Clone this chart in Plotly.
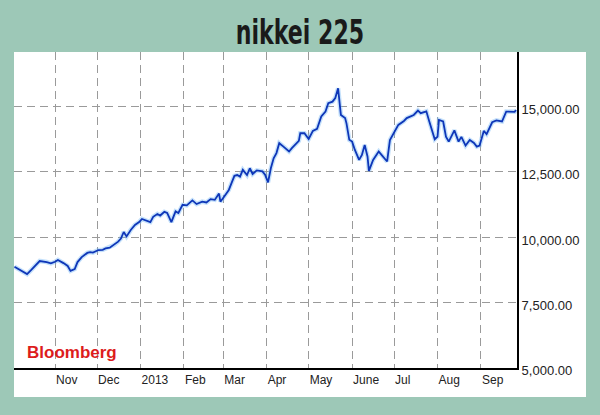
import plotly.graph_objects as go

dates = [
    "2012-10-03", "2012-10-07", "2012-10-12", "2012-10-15", "2012-10-18", "2012-10-21",
    "2012-10-26", "2012-10-29", "2012-11-01", "2012-11-03", "2012-11-07", "2012-11-10",
    "2012-11-12", "2012-11-15", "2012-11-17", "2012-11-20", "2012-11-24", "2012-11-26",
    "2012-11-28", "2012-12-02", "2012-12-05", "2012-12-07", "2012-12-10", "2012-12-13",
    "2012-12-16", "2012-12-18", "2012-12-20", "2012-12-22", "2012-12-25", "2012-12-28",
    "2012-12-31", "2013-01-02", "2013-01-06", "2013-01-08", "2013-01-10", "2013-01-13",
    "2013-01-15", "2013-01-18", "2013-01-20", "2013-01-23", "2013-01-26", "2013-01-28",
    "2013-01-31", "2013-02-03", "2013-02-07", "2013-02-10", "2013-02-14", "2013-02-17",
    "2013-02-20", "2013-02-23", "2013-02-26", "2013-02-27", "2013-03-02", "2013-03-05",
    "2013-03-07", "2013-03-09", "2013-03-11", "2013-03-13", "2013-03-15", "2013-03-18",
    "2013-03-20", "2013-03-22", "2013-03-25", "2013-03-29", "2013-03-31", "2013-04-02",
    "2013-04-04", "2013-04-06", "2013-04-08", "2013-04-10", "2013-04-13", "2013-04-17",
    "2013-04-19", "2013-04-21", "2013-04-24", "2013-04-25", "2013-04-28", "2013-05-01",
    "2013-05-04", "2013-05-07", "2013-05-10", "2013-05-13", "2013-05-15", "2013-05-18",
    "2013-05-20", "2013-05-22", "2013-05-24", "2013-05-27", "2013-05-28", "2013-05-30",
    "2013-06-01", "2013-06-03", "2013-06-06", "2013-06-08", "2013-06-10", "2013-06-12",
    "2013-06-13", "2013-06-16", "2013-06-20", "2013-06-22", "2013-06-26", "2013-06-28",
    "2013-07-02", "2013-07-04", "2013-07-08", "2013-07-10", "2013-07-15", "2013-07-18",
    "2013-07-20", "2013-07-24", "2013-07-26", "2013-07-29", "2013-07-30", "2013-08-01",
    "2013-08-02", "2013-08-05", "2013-08-07", "2013-08-09", "2013-08-13", "2013-08-16",
    "2013-08-18", "2013-08-21", "2013-08-24", "2013-08-27", "2013-08-29", "2013-08-31",
    "2013-09-03", "2013-09-05", "2013-09-09", "2013-09-12", "2013-09-16", "2013-09-19",
    "2013-09-23", "2013-09-25", "2013-09-26",
]

nikkei = [
    8870, 8750, 8590, 8750, 8940, 9090,
    9050, 9000, 9060, 9130, 9010, 8900,
    8710, 8780, 9050, 9240, 9400, 9430,
    9410, 9510, 9520, 9570, 9600, 9700,
    9830, 9950, 10200, 10030, 10280, 10470,
    10580, 10700, 10620, 10580, 10780, 10890,
    10830, 10970, 10930, 10580, 10990, 10930,
    11240, 11220, 11410, 11270, 11360, 11330,
    11460, 11430, 11670, 11360, 11580, 11810,
    12080, 12350, 12380, 12320, 12580, 12380,
    12640, 12420, 12560, 12520, 12380, 12100,
    12640, 13020, 13220, 13600, 13470, 13280,
    13410, 13530, 13690, 13980, 13980, 13760,
    14070, 14150, 14620, 14810, 15130, 15190,
    15330, 15700, 14680, 14560, 14360, 13730,
    13660, 13340, 12960, 13150, 13530, 13090,
    12540, 12960, 13280, 13150, 12900, 13720,
    14110, 14300, 14450, 14560, 14680, 14850,
    14750, 14820, 14450, 13980, 13750, 13850,
    14490, 14430, 13850, 13660, 14090, 13660,
    13840, 13510, 13720, 13610, 13470, 13510,
    14070, 13950, 14400, 14470, 14430, 14810,
    14810, 14800, 14870,
]

month_ticks = ["2012-11-01", "2012-12-01", "2013-01-01", "2013-02-01", "2013-03-01",
               "2013-04-01", "2013-05-01", "2013-06-01", "2013-07-01", "2013-08-01",
               "2013-09-01"]
month_labels = ["Nov", "Dec", "2013", "Feb", "Mar", "Apr", "May", "June", "Jul", "Aug", "Sep"]

y_ticks = [5000, 7500, 10000, 12500, 15000]

BG = "#9DC8B7"

fig = go.Figure()
# faint halo under the line
fig.add_trace(go.Scatter(x=dates, y=nikkei, mode="lines",
                         line=dict(color="rgba(110,180,245,0.40)", width=4.5),
                         hoverinfo="skip", showlegend=False))
fig.add_trace(go.Scatter(x=dates, y=nikkei, mode="lines",
                         line=dict(color="#0E36B8", width=1.8),
                         showlegend=False))

fig.update_layout(
    width=600, height=415,
    margin=dict(l=14, r=83, t=52, b=47),
    paper_bgcolor=BG,
    plot_bgcolor="white",
    title=dict(text="<b>nikkei 225</b>", x=0.5, xref="container", xanchor="center",
               y=0.9217, yref="container", yanchor="middle",
               font=dict(family="DejaVu Sans, sans-serif", size=34, color="#1a1a1a")),
    shapes=[dict(type="rect", xref="paper", yref="paper", x0=0, x1=1.1372,
                 y0=-0.0918, y1=1, fillcolor="white", line=dict(width=0),
                 layer="below")],
    annotations=[dict(text="<b>Bloomberg</b>", xref="paper", yref="paper",
                      x=0.021, y=0.048, xanchor="left", yanchor="middle",
                      showarrow=False,
                      font=dict(family="Liberation Sans, Arial, sans-serif",
                                size=17, color="#DD1C1C"))],
    xaxis=dict(
        type="date",
        range=["2012-10-02 16:00", "2013-09-26 17:00"],
        tickvals=month_ticks, ticktext=month_labels,
        ticklabelposition="outside right",
        showgrid=True, gridcolor="#9A9A9A", gridwidth=1, griddash="8px,5px",
        showline=True, linecolor="black", linewidth=2,
        ticks="", zeroline=False,
        tickfont=dict(family="Liberation Sans, Arial, sans-serif", size=12, color="#222"),
    ),
    yaxis=dict(
        side="right",
        range=[4995, 17090],
        tickvals=y_ticks, tickformat=",.2f",
        showgrid=True, gridcolor="#9A9A9A", gridwidth=1, griddash="8px,5px",
        showline=True, linecolor="black", linewidth=2,
        ticks="", zeroline=False,
        ticklabelshift=3,
        tickfont=dict(family="Liberation Sans, Arial, sans-serif", size=13, color="#222"),
    ),
)

# page margin removal + horizontally condensed title (Impact-like proportions)
post = (
    "document.body.style.margin='0';"
    "document.body.style.background='" + BG + "';"
    "document.querySelectorAll('.gtitle').forEach(function(e){"
    "e.style.transformBox='fill-box';"
    "e.style.transformOrigin='center';"
    "e.style.transform='scaleX(0.65)';"
    "});"
)

fig.write_html("out.html", post_script=post, config={"displayModeBar": False})
